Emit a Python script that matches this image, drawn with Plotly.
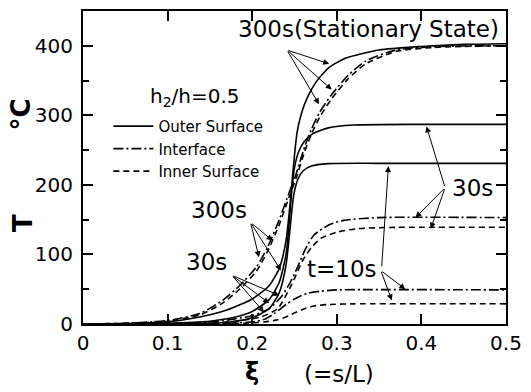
import plotly.graph_objects as go

# ---------------- data ----------------
# t = 300 s (stationary state)
xi_out_300 = [0, 0.05, 0.1, 0.138, 0.17, 0.2, 0.22, 0.232, 0.24, 0.245, 0.249, 0.253, 0.258, 0.265, 0.275, 0.29, 0.31, 0.35, 0.4, 0.45, 0.5]
T_out_300 = [0, 0.5, 3, 10, 20, 36, 55, 80, 120, 175, 230, 275, 302, 325, 347, 368, 382, 394, 399, 402, 403]
xi_int_300 = [0, 0.05, 0.1, 0.138, 0.165, 0.185, 0.205, 0.218, 0.232, 0.244, 0.252, 0.262, 0.27, 0.28, 0.294, 0.313, 0.334, 0.37, 0.42, 0.5]
T_int_300 = [0, 1, 5, 15, 34, 55, 82, 110, 150, 190, 216, 255, 280, 305, 330, 357, 378, 394, 399, 400]
xi_inn_300 = [0, 0.05, 0.1, 0.138, 0.165, 0.185, 0.205, 0.218, 0.232, 0.244, 0.252, 0.262, 0.27, 0.28, 0.294, 0.313, 0.334, 0.37, 0.42, 0.5]
T_inn_300 = [0, 1, 4, 13, 30, 50, 76, 104, 143, 184, 210, 248, 273, 298, 324, 352, 374, 392, 398, 400]
# t = 30 s
xi_out_30 = [0, 0.1, 0.15, 0.18, 0.2, 0.22, 0.232, 0.24, 0.244, 0.247, 0.25, 0.255, 0.262, 0.272, 0.29, 0.32, 0.4, 0.5]
T_out_30 = [0, 1, 4, 10, 18, 35, 60, 100, 150, 195, 225, 248, 263, 274, 282, 286, 287, 287]
xi_int_30 = [0, 0.12, 0.16, 0.2, 0.22, 0.235, 0.245, 0.253, 0.263, 0.273, 0.29, 0.308, 0.35, 0.5]
T_int_30 = [0, 1, 4, 12, 22, 40, 60, 80, 108, 128, 142, 149, 153, 153]
xi_inn_30 = [0, 0.14, 0.18, 0.21, 0.23, 0.246, 0.26, 0.27, 0.281, 0.3, 0.324, 0.37, 0.5]
T_inn_30 = [0, 1, 4, 10, 22, 55, 92, 110, 123, 132, 137, 139, 139]
# t = 10 s
xi_out_10 = [0, 0.15, 0.18, 0.2, 0.22, 0.232, 0.24, 0.245, 0.249, 0.254, 0.26, 0.27, 0.29, 0.35, 0.5]
T_out_10 = [0, 1, 4, 9, 22, 45, 85, 140, 185, 208, 220, 227, 230.5, 231, 231]
xi_int_10 = [0, 0.17, 0.2, 0.215, 0.226, 0.24, 0.25, 0.265, 0.28, 0.3, 0.5]
T_int_10 = [0, 1, 3, 7, 15, 28, 36, 44, 47, 49, 49]
xi_inn_10 = [0, 0.19, 0.215, 0.23, 0.24, 0.25, 0.262, 0.273, 0.29, 0.32, 0.5]
T_inn_10 = [0, 1, 3, 6, 10, 16, 22, 26, 28, 29, 29]

x_ticks = [0, 0.1, 0.2, 0.3, 0.4, 0.5]
x_tick_labels = ["0", "0.1", "0.2", "0.3", "0.4", "0.5"]
y_ticks = [0, 100, 200, 300, 400]
y_tick_labels = ["0", "100", "200", "300", "400"]
legend_names = ["Outer Surface", "Interface", "Inner Surface"]

FONT = "DejaVu Sans"
dash_styles = ["solid", "10px,3px,2px,3px", "6px,4px"]

fig = go.Figure()
series = [
    (xi_out_300, T_out_300, 0, True), (xi_int_300, T_int_300, 1, True), (xi_inn_300, T_inn_300, 2, True),
    (xi_out_30, T_out_30, 0, False), (xi_int_30, T_int_30, 1, False), (xi_inn_30, T_inn_30, 2, False),
    (xi_out_10, T_out_10, 0, False), (xi_int_10, T_int_10, 1, False), (xi_inn_10, T_inn_10, 2, False),
]
for xs, ys, k, show in series:
    fig.add_trace(go.Scatter(
        x=xs, y=ys, mode="lines", name=legend_names[k], showlegend=show,
        legendgroup=legend_names[k],
        line=dict(color="black", width=1.6, dash=dash_styles[k], shape="spline", smoothing=0.6),
    ))

# arrows: (head_xi, head_T, tail_xi, tail_T)
arrows = [
    (0.291, 374, 0.241, 394), (0.294, 337, 0.241, 394), (0.279, 316, 0.241, 394),
    (0.406, 284, 0.428, 196), (0.393, 153, 0.428, 196), (0.411, 137, 0.428, 196),
    (0.381, 50, 0.352, 77), (0.365, 34, 0.352, 77), (0.361, 227, 0.353, 81),
    (0.224, 120, 0.198, 146), (0.208, 96, 0.198, 146), (0.234, 77, 0.198, 146),
    (0.232, 41, 0.176, 70), (0.22, 30, 0.176, 70), (0.214, 17, 0.176, 70),
]
for hx, hy, tx, ty in arrows:
    fig.add_annotation(x=hx, y=hy, ax=tx, ay=ty, xref="x", yref="y", axref="x", ayref="y",
                       text="", showarrow=True, arrowhead=2, arrowsize=1.2, arrowwidth=1,
                       arrowcolor="black", standoff=0, startstandoff=0)

labels = [
    ("300s(Stationary State)", 0.338, 424, 23),
    ("30s", 0.46, 196, 23),
    ("t=10s", 0.306, 79, 23),
    ("300s", 0.161, 164, 23),
    ("30s", 0.146, 89, 23),
]
for txt, x, y, s in labels:
    fig.add_annotation(x=x, y=y, xref="x", yref="y", text=txt, showarrow=False,
                       xanchor="center", yanchor="middle",
                       font=dict(family=FONT, size=s, color="black"))

fig.add_annotation(x=0.132, y=327, xref="x", yref="y", text="h<sub>2</sub>/h=0.5", showarrow=False,
                   xanchor="center", yanchor="middle",
                   font=dict(family=FONT, size=20, color="black"))

# axis titles
titles = [
    ("<b>T</b>", -0.1435, 0.324, 26, -90),
    ("<b>°C</b>", -0.146, 0.67, 26, -90),
    ("<b>ξ</b>", 0.4, -0.152, 24, 0),
    ("(=s/L)", 0.605, -0.159, 23, 0),
]
for txt, x, y, s, ang in titles:
    fig.add_annotation(x=x, y=y, xref="paper", yref="paper", text=txt, textangle=ang,
                       xanchor="center", yanchor="middle", showarrow=False,
                       font=dict(family=FONT, size=s, color="black"))

axis_common = dict(showline=True, linecolor="black", linewidth=2, mirror="ticks", ticks="inside",
                   tickcolor="black", tickwidth=1.5, ticklen=10, showgrid=False, zeroline=False,
                   tickfont=dict(family=FONT, size=20, color="black"))
fig.update_xaxes(range=[0, 0.5], tickvals=x_ticks, ticktext=x_tick_labels, **axis_common)
fig.update_yaxes(range=[0, 450], tickvals=y_ticks, ticktext=y_tick_labels,
                 minor=dict(dtick=50, ticks="inside", ticklen=6, tickcolor="black", tickwidth=1.5),
                 ticklabelstandoff=4, **axis_common)

fig.update_layout(
    width=531, height=392, margin=dict(l=83, r=23, t=9, b=68),
    paper_bgcolor="white", plot_bgcolor="white",
    legend=dict(x=0.06, y=0.684, xanchor="left", yanchor="top", bgcolor="rgba(0,0,0,0)",
                font=dict(family=FONT, size=15, color="black"), tracegroupgap=0, itemwidth=40),
)
fig.write_html("out.html")
